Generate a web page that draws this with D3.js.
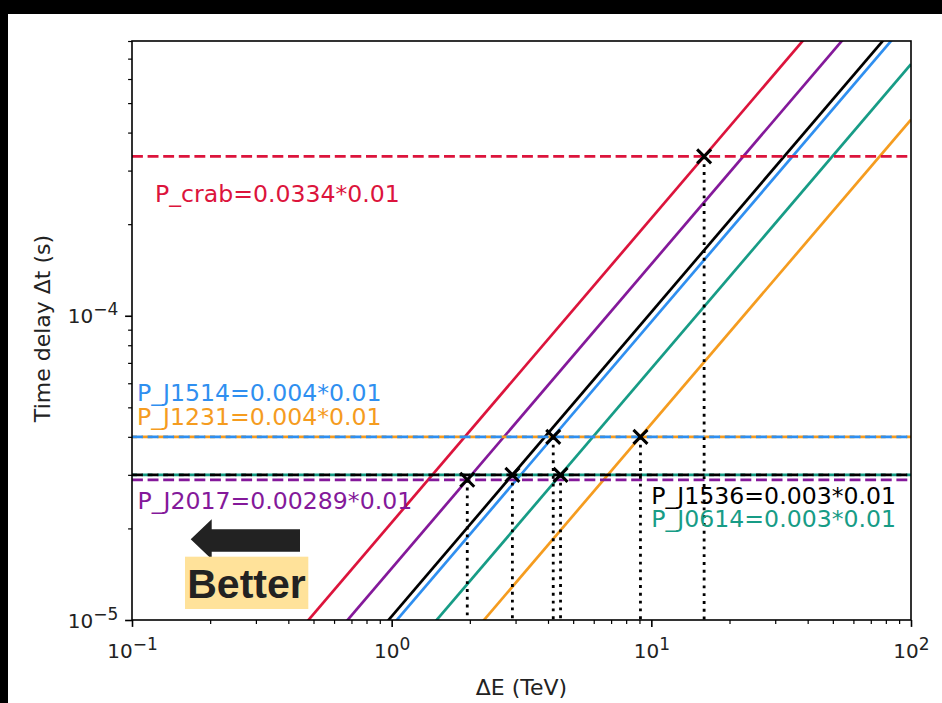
<!DOCTYPE html>
<html>
<head>
<meta charset="utf-8">
<script src="https://cdn.jsdelivr.net/npm/d3@7"></script>
<style>
  html, body { margin: 0; padding: 0; background: #ffffff; }
  svg { display: block; }
</style>
</head>
<body>
<script>
// ---------------- data ----------------
const seriesNames   = ["crab", "J2017", "J1536", "J1514", "J0614", "J1231"];
const seriesColors  = ["#DC143C", "#84199A", "#000000", "#2F8FF0", "#179C86", "#F59C1F"];
// pulsar period values (horizontal dashed lines), seconds
const periodValues  = [3.34e-4, 2.89e-5, 3.0e-5, 4.0e-5, 3.0e-5, 4.0e-5];
// ΔE where each diagonal crosses its own dashed line (TeV)
const crossEnergies = [15.97, 1.955, 2.917, 4.19, 4.47, 9.08];
// diagonal lines: Δt at ΔE = 0.1 TeV and at ΔE = 100 TeV
const lineEnergyEnds = [0.1, 100];
const lineDelayLow  = [2.091e-6, 1.478e-6, 1.028e-6, 9.55e-7, 6.71e-7, 4.41e-7];
const lineDelayHigh = [2.091e-3, 1.478e-3, 1.028e-3, 9.55e-4, 6.71e-4, 4.41e-4];
// annotations
const labelTexts = ["P_crab=0.0334*0.01", "P_J2017=0.00289*0.01", "P_J1536=0.003*0.01",
                    "P_J1514=0.004*0.01", "P_J0614=0.003*0.01", "P_J1231=0.004*0.01"];
const labelEnergy = [0.1227, 0.1050, 10.0, 0.1045, 10.0, 0.1045];
const labelDelay  = [2.366e-4, 2.317e-5, 2.405e-5, 5.25e-5, 2.023e-5, 4.376e-5];
// axes
const xDomain = [0.1, 100];
const yDomain = [1e-5, 8e-4];
const xMajorTicks = [0.1, 1, 10, 100];
const xTickExponents = ["−1", "0", "1", "2"];
const yMajorTicks = [1e-5, 1e-4];
const yTickExponents = ["−5", "−4"];
const xLabel = "ΔE (TeV)";
const yLabel = "Time delay Δt (s)";
const betterText = "Better";

// ---------------- layout ----------------
const W = 942, H = 703;
const plot = { left: 132, right: 911, top: 41, bottom: 620 };
const FONT = "DejaVu Sans, sans-serif";

const svg = d3.select("body").append("svg").attr("width", W).attr("height", H)
  .style("font-family", FONT);
svg.append("rect").attr("width", W).attr("height", H).attr("fill", "#ffffff");
// dark photo border
svg.append("rect").attr("x", 0).attr("y", 0).attr("width", W).attr("height", 14).attr("fill", "#000");
svg.append("rect").attr("x", 0).attr("y", 0).attr("width", 8).attr("height", H).attr("fill", "#000");

const x = d3.scaleLog().domain(xDomain).range([plot.left, plot.right]);
const y = d3.scaleLog().domain(yDomain).range([plot.bottom, plot.top]);

svg.append("clipPath").attr("id", "clip").append("rect")
  .attr("x", plot.left).attr("y", plot.top)
  .attr("width", plot.right - plot.left).attr("height", plot.bottom - plot.top);

const g = svg.append("g").attr("clip-path", "url(#clip)");

// diagonal lines
const line = d3.line().x(d => x(d[0])).y(d => y(d[1]));
seriesNames.forEach((n, i) => {
  g.append("path")
    .datum([[lineEnergyEnds[0], lineDelayLow[i]], [lineEnergyEnds[1], lineDelayHigh[i]]])
    .attr("d", line).attr("fill", "none")
    .attr("stroke", seriesColors[i]).attr("stroke-width", 2.7);
});

// horizontal dashed lines (draw order chosen to match overlaps)
const dashOrder = [0, 5, 3, 4, 2, 1];
const dashOffsets = { 5: 6, 4: 6 };
dashOrder.forEach(i => {
  g.append("path")
    .datum([[xDomain[0], periodValues[i]], [xDomain[1], periodValues[i]]])
    .attr("d", line).attr("fill", "none")
    .attr("stroke", seriesColors[i]).attr("stroke-width", 2.7)
    .attr("stroke-dasharray", "10.9,4.7")
    .attr("stroke-dashoffset", dashOffsets[i] || 0);
});

// dotted verticals from crossings down
seriesNames.forEach((n, i) => {
  g.append("path")
    .datum([[crossEnergies[i], periodValues[i]], [crossEnergies[i], yDomain[0]]])
    .attr("d", line).attr("fill", "none")
    .attr("stroke", "#000").attr("stroke-width", 2.8)
    .attr("stroke-dasharray", "2.9,4.9");
});

// x markers
const ms = 7;
seriesNames.forEach((n, i) => {
  const cx = x(crossEnergies[i]), cy = y(periodValues[i]);
  svg.append("path")
    .attr("d", `M${cx - ms},${cy - ms}L${cx + ms},${cy + ms}M${cx - ms},${cy + ms}L${cx + ms},${cy - ms}`)
    .attr("stroke", "#000").attr("stroke-width", 3).attr("fill", "none");
});

// annotations
seriesNames.forEach((n, i) => {
  svg.append("text")
    .attr("x", x(labelEnergy[i])).attr("y", y(labelDelay[i]))
    .attr("fill", seriesColors[i]).style("font-size", "23.6px")
    .text(labelTexts[i]);
});

// ---------------- axes ----------------
function supLabel(sel, exps) {
  sel.selectAll(".tick text").each(function(d, i) {
    const t = d3.select(this);
    t.text(null);
    t.append("tspan").text("10");
    t.append("tspan").style("font-size", "17px").attr("dy", -8).text(exps[i]);
  });
}

const xMinor = [];
const yMinor = [];
for (let e = -1; e < 2; e++) for (let m = 2; m <= 9; m++) xMinor.push(m * Math.pow(10, e));
for (let e = -5; e < -3; e++) for (let m = 2; m <= 9; m++) {
  const v = m * Math.pow(10, e);
  if (v <= yDomain[1] * 1.0001) yMinor.push(v);
}

const xAxisMinor = svg.append("g").attr("transform", `translate(0,${plot.bottom})`)
  .call(d3.axisBottom(x).tickValues(xMinor).tickSize(3.9).tickFormat(""));
const yAxisMinor = svg.append("g").attr("transform", `translate(${plot.left},0)`)
  .call(d3.axisLeft(y).tickValues(yMinor).tickSize(3.9).tickFormat(""));
[xAxisMinor, yAxisMinor].forEach(a => {
  a.select(".domain").remove();
  a.selectAll(".tick line").attr("stroke", "#000").attr("stroke-width", 1.2);
});

const xAxis = svg.append("g").attr("transform", `translate(0,${plot.bottom})`)
  .call(d3.axisBottom(x).tickValues(xMajorTicks).tickSize(6.9).tickPadding(6.9).tickFormat(() => ""));
const yAxis = svg.append("g").attr("transform", `translate(${plot.left},0)`)
  .call(d3.axisLeft(y).tickValues(yMajorTicks).tickSize(6.9).tickPadding(6.9).tickFormat(() => ""));
[xAxis, yAxis].forEach(a => {
  a.attr("font-family", null).attr("font-size", null);
  a.select(".domain").remove();
  a.selectAll(".tick line").attr("stroke", "#000").attr("stroke-width", 1.6);
  a.selectAll(".tick text").style("font-size", "20px").attr("fill", "#222");
});
xAxis.selectAll(".tick text").attr("dy", null).attr("y", 38);
supLabel(xAxis, xTickExponents);
xAxis.selectAll(".tick text").attr("text-anchor", "middle");
yAxis.selectAll(".tick text").attr("dy", null).attr("y", 7);
supLabel(yAxis, yTickExponents);

// frame
svg.append("rect")
  .attr("x", plot.left).attr("y", plot.top)
  .attr("width", plot.right - plot.left).attr("height", plot.bottom - plot.top)
  .attr("fill", "none").attr("stroke", "#000").attr("stroke-width", 1.6);

// axis labels
svg.append("text").attr("x", (plot.left + plot.right) / 2).attr("y", 695)
  .attr("text-anchor", "middle").style("font-size", "22px").attr("fill", "#222").text(xLabel);
svg.append("text").attr("transform", `translate(50,${(plot.top + plot.bottom) / 2 - 2}) rotate(-90)`)
  .attr("text-anchor", "middle").style("font-size", "22px").attr("fill", "#222").text(yLabel);

// "Better" arrow and label
svg.append("path")
  .attr("d", "M190.7,539.3 L211.7,519.3 L211.7,529.3 L300,529.3 L300,551.7 L211.7,551.7 L211.7,559.3 Z")
  .attr("fill", "#222");
svg.append("rect").attr("x", 185).attr("y", 556.7).attr("width", 123.3).attr("height", 52.3)
  .attr("fill", "#FFE29A");
svg.append("text").attr("x", 246.5).attr("y", 598.3).attr("text-anchor", "middle")
  .style("font-family", "'Liberation Sans', Arial, sans-serif").style("font-weight", "bold")
  .style("font-size", "41px").attr("fill", "#222").text(betterText);
</script>
</body>
</html>
